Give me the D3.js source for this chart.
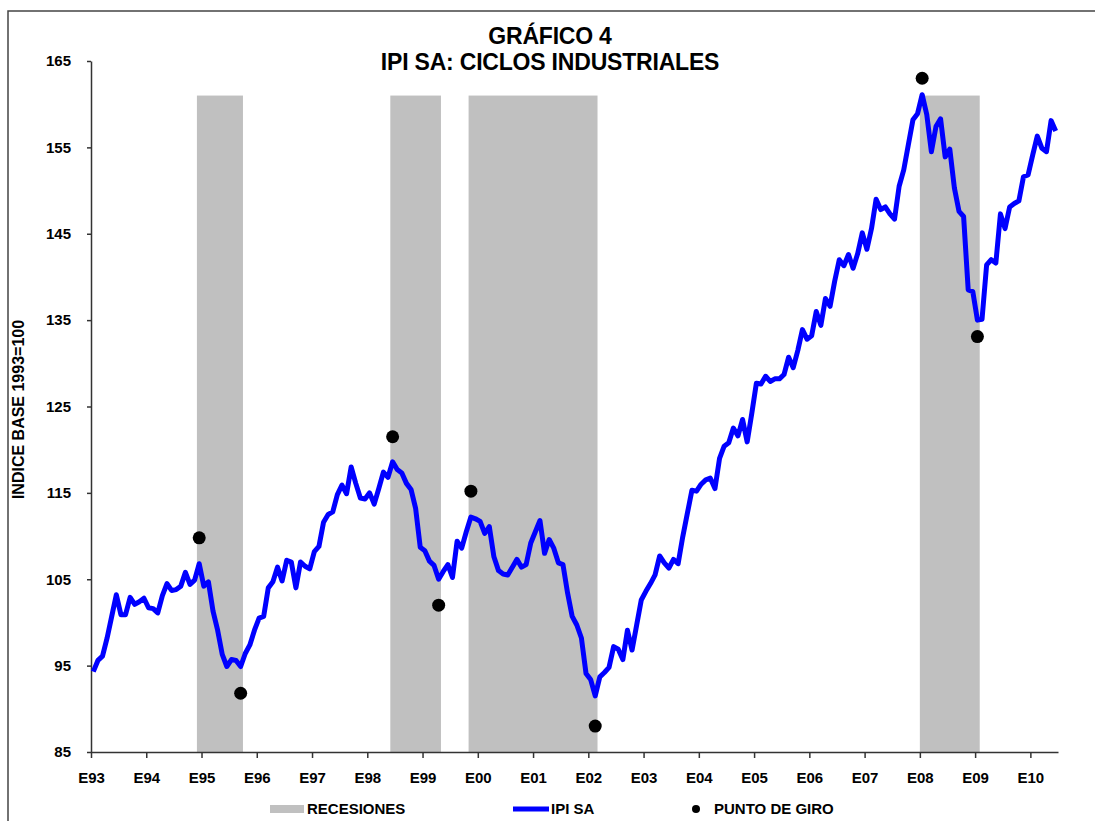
<!DOCTYPE html>
<html>
<head>
<meta charset="utf-8">
<script src="https://cdn.jsdelivr.net/npm/d3@7"></script>
<style>
  body { margin: 0; background: #fff; }
  svg { display: block; font-family: "Liberation Sans", Arial, sans-serif; font-weight: bold; }
  .axis path, .axis line { stroke: #333; stroke-width: 1.5; }
  .axis text { font-size: 15px; font-weight: bold; fill: #000; }
  .legend text { font-size: 15px; }
</style>
</head>
<body>
<div id="chart"></div>
<script>
// IPI SA, indice base 1993=100, mensual desde enero 1993
const startYear = 1993;
const ipi = [
  94.3, 95.6, 96.1, 98.2, 100.7, 103.2, 100.9, 100.9, 102.9, 102.1, 102.4, 102.8,
  101.7, 101.6, 101.1, 103.1, 104.5, 103.7, 103.8, 104.2, 105.8, 104.4, 104.9, 106.8,
  104.2, 104.7, 101.3, 99.1, 96.3, 94.9, 95.7, 95.6, 94.9, 96.4, 97.4, 99.1,
  100.5, 100.7, 104.0, 104.7, 106.4, 104.8, 107.2, 107.0, 104.0, 107.0, 106.5, 106.2,
  108.2, 108.8, 111.6, 112.5, 112.8, 114.8, 115.9, 114.9, 118.0, 116.1, 114.4, 114.3,
  115.0, 113.7, 115.5, 117.4, 116.8, 118.6, 117.7, 117.3, 116.1, 115.4, 113.2, 108.7,
  108.3, 107.1, 106.6, 105.0, 105.9, 106.7, 105.2, 109.4, 108.6, 110.5, 112.2, 112.0,
  111.7, 110.3, 111.1, 107.6, 106.0, 105.6, 105.5, 106.4, 107.3, 106.4, 106.7, 109.2,
  110.5, 111.8, 108.0, 109.6, 108.6, 106.9, 106.7, 103.4, 100.7, 99.7, 98.2, 94.1,
  93.4, 91.5, 93.7, 94.2, 94.8, 97.2, 96.9, 95.7, 99.1, 96.8, 99.7, 102.6,
  103.6, 104.5, 105.5, 107.7, 106.9, 106.3, 107.3, 106.8, 109.9, 112.6, 115.3, 115.2,
  116.0, 116.5, 116.7, 115.5, 119.0, 120.4, 120.8, 122.5, 121.6, 123.5, 120.9, 124.2,
  127.7, 127.6, 128.5, 127.9, 128.2, 128.2, 128.7, 130.7, 129.5, 131.5, 133.9, 132.8,
  133.2, 136.0, 134.4, 137.5, 136.6, 139.5, 142.0, 141.3, 142.6, 141.0, 142.7, 145.1,
  143.2, 145.6, 149.0, 147.8, 148.1, 147.3, 146.7, 150.5, 152.4, 155.3, 158.2, 158.9,
  161.1, 158.8, 154.5, 157.4, 158.3, 153.9, 154.8, 150.3, 147.6, 147.0, 138.5, 138.3,
  135.0, 135.1, 141.4, 142.0, 141.6, 147.3, 145.6, 148.1, 148.5, 148.8, 151.6, 151.8,
  154.1, 156.3, 154.9, 154.5, 158.1, 156.9
];

// recesiones (pico -> valle) y altura de la barra
const recessions = [
  ['1994-12', '1995-09'],
  ['1998-06', '1999-04'],
  ['1999-11', '2002-02'],
  ['2008-01', '2009-01']
];
const recessionLevel = 161;

// puntos de giro
const turnDates = ['1994-12', '1995-09', '1998-06', '1999-04', '1999-11', '2002-02', '2008-01', '2009-01'];
const turnValues = [109.8, 91.8, 121.5, 102.0, 115.2, 88.0, 163.0, 133.1];

const yearLabels = ['E93', 'E94', 'E95', 'E96', 'E97', 'E98', 'E99', 'E00', 'E01',
  'E02', 'E03', 'E04', 'E05', 'E06', 'E07', 'E08', 'E09', 'E10'];
const yTicks = [85, 95, 105, 115, 125, 135, 145, 155, 165];

const width = 1095, height = 821;
const plot = { left: 91, right: 1058, top: 61, bottom: 752 };

function monthIndex(s) {
  const [yy, mm] = s.split('-').map(Number);
  return (yy - startYear) * 12 + (mm - 1);
}

const x = d3.scaleLinear()
  .domain([0, ipi.length])
  .range([plot.left, plot.right]);

const y = d3.scaleLinear()
  .domain([85, 165])
  .range([plot.bottom, plot.top]);

const svg = d3.select('#chart').append('svg')
  .attr('width', width)
  .attr('height', height)
  .attr('viewBox', [0, 0, width, height]);

// marco
svg.append('path')
  .attr('d', `M8,${height} V11 H${width}`)
  .attr('fill', 'none')
  .attr('stroke', '#444')
  .attr('stroke-width', 1.5);

// titulo
svg.append('text')
  .attr('x', 550).attr('y', 44)
  .attr('text-anchor', 'middle')
  .attr('font-size', 23)
  .attr('letter-spacing', -0.2)
  .text('GRÁFICO 4');
svg.append('text')
  .attr('x', 550).attr('y', 70)
  .attr('text-anchor', 'middle')
  .attr('font-size', 23)
  .attr('letter-spacing', -0.2)
  .text('IPI SA: CICLOS INDUSTRIALES');

// recesiones
svg.append('g')
  .selectAll('rect')
  .data(recessions)
  .join('rect')
    .attr('x', d => x(monthIndex(d[0])))
    .attr('width', d => x(monthIndex(d[1]) + 1) - x(monthIndex(d[0])))
    .attr('y', y(recessionLevel))
    .attr('height', y(85) - y(recessionLevel))
    .attr('fill', '#c0c0c0');

// ejes
const yAxis = d3.axisLeft(y)
  .tickValues(yTicks)
  .tickSize(4)
  .tickSizeOuter(0)
  .tickPadding(16);

svg.append('g')
  .attr('class', 'axis y')
  .attr('transform', `translate(${plot.left},0)`)
  .call(yAxis);

const xAxis = d3.axisBottom(x)
  .tickValues(yearLabels.map((d, i) => i * 12))
  .tickFormat((d, i) => yearLabels[i])
  .tickSize(6)
  .tickSizeOuter(0)
  .tickPadding(14);

svg.append('g')
  .attr('class', 'axis x')
  .attr('transform', `translate(0,${plot.bottom})`)
  .call(xAxis);

svg.append('text')
  .attr('transform', `translate(24, ${(plot.top + plot.bottom) / 2 + 3}) rotate(-90)`)
  .attr('text-anchor', 'middle')
  .attr('font-size', 16)
  .text('INDICE BASE  1993=100');

// serie
const line = d3.line()
  .x((d, i) => x(i + 0.5))
  .y(d => y(d));

svg.append('path')
  .datum(ipi)
  .attr('fill', 'none')
  .attr('stroke', '#0000ff')
  .attr('stroke-width', 5)
  .attr('stroke-linejoin', 'round')
  .attr('d', line);

svg.append('g')
  .selectAll('circle')
  .data(turnDates)
  .join('circle')
    .attr('cx', d => x(monthIndex(d) + 0.5))
    .attr('cy', (d, i) => y(turnValues[i]))
    .attr('r', 6.5)
    .attr('fill', '#000');

// leyenda
const legend = svg.append('g').attr('class', 'legend');
legend.append('rect')
  .attr('x', 270).attr('y', 805).attr('width', 34).attr('height', 8)
  .attr('fill', '#c0c0c0');
legend.append('text').attr('x', 307).attr('y', 814).text('RECESIONES');

legend.append('line')
  .attr('x1', 513).attr('x2', 549).attr('y1', 809).attr('y2', 809)
  .attr('stroke', '#0000ff').attr('stroke-width', 5);
legend.append('text').attr('x', 551).attr('y', 814).text('IPI SA');

legend.append('circle')
  .attr('cx', 696).attr('cy', 809).attr('r', 4)
  .attr('fill', '#000');
legend.append('text').attr('x', 714).attr('y', 814).text('PUNTO DE GIRO');
</script>
</body>
</html>
